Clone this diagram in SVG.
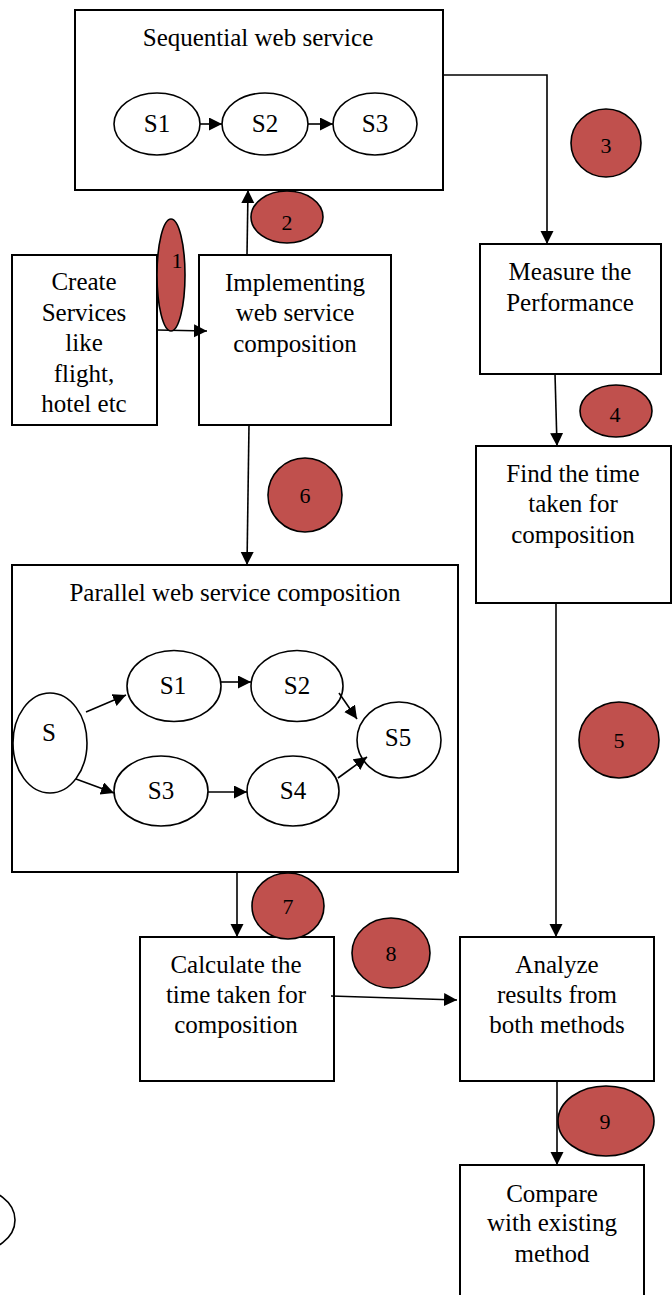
<svg xmlns="http://www.w3.org/2000/svg" width="672" height="1295" viewBox="0 0 672 1295">
<defs>
<marker id="ah" markerUnits="userSpaceOnUse" markerWidth="14" markerHeight="14" refX="13" refY="6.5" orient="auto">
<path d="M0,0 L13,6.5 L0,13 z" fill="#000"/>
</marker>
<style>
.box{fill:#fff;stroke:#000;stroke-width:2}
.ell{fill:#fff;stroke:#000;stroke-width:1.6}
.num{fill:#C0504D;stroke:#000;stroke-width:1.6}
.t{font-family:"Liberation Serif","Times New Roman",serif;font-size:25px;fill:#000;text-anchor:middle}
.n{font-family:"Liberation Serif","Times New Roman",serif;font-size:22px;fill:#000;text-anchor:middle}
.c{fill:none;stroke:#000;stroke-width:1.6;marker-end:url(#ah)}
</style>
</defs>
<rect width="672" height="1295" fill="#fff"/>

<g id="sequential">
<rect class="box" x="75" y="10" width="368" height="180"/>
<text class="t" x="258" y="46">Sequential web service</text>
<g id="seq-s1"><ellipse class="ell" cx="157" cy="124" rx="43" ry="31"/><text class="t" x="157" y="132">S1</text></g>
<g id="seq-s2"><ellipse class="ell" cx="265" cy="124" rx="43" ry="31"/><text class="t" x="265" y="132">S2</text></g>
<g id="seq-s3"><ellipse class="ell" cx="375" cy="124" rx="42" ry="31"/><text class="t" x="375" y="132">S3</text></g>
</g>

<g id="create">
<rect class="box" x="12" y="255" width="145" height="170"/>
<text class="t" x="84" y="290">Create</text>
<text class="t" x="84" y="321">Services</text>
<text class="t" x="84" y="351">like</text>
<text class="t" x="84" y="382">flight,</text>
<text class="t" x="84" y="412">hotel etc</text>
</g>

<g id="implementing">
<rect class="box" x="199" y="255" width="192" height="170"/>
<text class="t" x="295" y="291">Implementing</text>
<text class="t" x="295" y="321">web service</text>
<text class="t" x="295" y="352">composition</text>
</g>

<g id="measure">
<rect class="box" x="480" y="244" width="181" height="130"/>
<text class="t" x="570" y="280">Measure the</text>
<text class="t" x="570" y="311">Performance</text>
</g>

<g id="find">
<rect class="box" x="476" y="446" width="195" height="157"/>
<text class="t" x="573" y="482">Find the time</text>
<text class="t" x="573" y="512">taken for</text>
<text class="t" x="573" y="543">composition</text>
</g>

<g id="parallel">
<rect class="box" x="12" y="565" width="446" height="307"/>
<text class="t" x="235" y="601">Parallel web service composition</text>
<g id="par-s"><ellipse class="ell" cx="50" cy="743" rx="37" ry="50"/><text class="t" x="49" y="741">S</text></g>
<g id="par-s1"><ellipse class="ell" cx="174" cy="686" rx="47" ry="35.5"/><text class="t" x="173" y="694">S1</text></g>
<g id="par-s2"><ellipse class="ell" cx="297" cy="686" rx="46" ry="35.5"/><text class="t" x="297" y="694">S2</text></g>
<g id="par-s5"><ellipse class="ell" cx="399" cy="740" rx="42" ry="38"/><text class="t" x="398" y="746">S5</text></g>
<g id="par-s3"><ellipse class="ell" cx="161" cy="791" rx="47" ry="35"/><text class="t" x="161" y="799">S3</text></g>
<g id="par-s4"><ellipse class="ell" cx="293" cy="791" rx="46" ry="35"/><text class="t" x="293" y="799">S4</text></g>
</g>

<g id="calculate">
<rect class="box" x="140" y="937" width="194" height="144"/>
<text class="t" x="236" y="973">Calculate the</text>
<text class="t" x="236" y="1003">time taken for</text>
<text class="t" x="236" y="1033">composition</text>
</g>

<g id="analyze">
<rect class="box" x="460" y="937" width="194" height="144"/>
<text class="t" x="557" y="973">Analyze</text>
<text class="t" x="557" y="1003">results from</text>
<text class="t" x="557" y="1033">both methods</text>
</g>

<g id="compare">
<rect class="box" x="460" y="1165" width="184" height="140"/>
<text class="t" x="552" y="1202">Compare</text>
<text class="t" x="552" y="1231">with existing</text>
<text class="t" x="552" y="1262">method</text>
</g>

<g id="partial-circle">
<ellipse class="ell" cx="-27" cy="1220" rx="42" ry="32"/>
</g>

<g id="connectors">
<line class="c" x1="200" y1="124" x2="222" y2="124"/>
<line class="c" x1="308" y1="124" x2="333" y2="124"/>
<path class="c" d="M443,75 H547 V244"/>
<line class="c" x1="157" y1="330" x2="207" y2="331"/>
<line class="c" x1="247" y1="255" x2="248" y2="190"/>
<line class="c" x1="249" y1="425" x2="247" y2="565"/>
<line class="c" x1="555" y1="374" x2="557" y2="446"/>
<line class="c" x1="556" y1="603" x2="556" y2="937"/>
<line class="c" x1="86" y1="712" x2="126" y2="695"/>
<line class="c" x1="221" y1="682" x2="251" y2="682"/>
<line class="c" x1="339" y1="693" x2="357" y2="719"/>
<line class="c" x1="76" y1="779" x2="114" y2="793"/>
<line class="c" x1="208" y1="792" x2="247" y2="792"/>
<line class="c" x1="338" y1="778" x2="367" y2="757"/>
<line class="c" x1="237" y1="872" x2="237" y2="937"/>
<line class="c" x1="331" y1="996" x2="457" y2="1000"/>
<line class="c" x1="557" y1="1081" x2="557" y2="1165"/>
</g>

<g id="step1"><ellipse class="num" cx="171" cy="275" rx="14" ry="56"/><text class="n" x="177" y="268">1</text></g>
<g id="step2"><ellipse class="num" cx="287" cy="217" rx="36" ry="26"/><text class="n" x="287" y="230">2</text></g>
<g id="step3"><ellipse class="num" cx="606" cy="143" rx="35" ry="34"/><text class="n" x="606" y="153">3</text></g>
<g id="step4"><ellipse class="num" cx="616" cy="411" rx="36" ry="26"/><text class="n" x="615" y="422">4</text></g>
<g id="step5"><ellipse class="num" cx="619" cy="740" rx="40" ry="38"/><text class="n" x="619" y="748">5</text></g>
<g id="step6"><ellipse class="num" cx="305" cy="495" rx="37" ry="37"/><text class="n" x="305" y="503">6</text></g>
<g id="step7"><ellipse class="num" cx="288" cy="906" rx="36" ry="33"/><text class="n" x="288" y="914">7</text></g>
<g id="step8"><ellipse class="num" cx="391" cy="953" rx="39" ry="35"/><text class="n" x="391" y="961">8</text></g>
<g id="step9"><ellipse class="num" cx="606" cy="1121" rx="48" ry="35"/><text class="n" x="605" y="1129">9</text></g>
</svg>
